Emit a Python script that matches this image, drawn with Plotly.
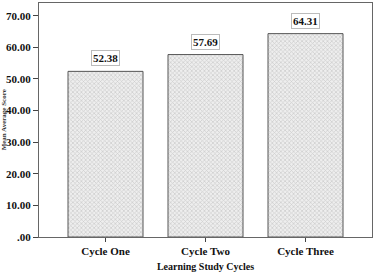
import plotly.graph_objects as go

categories = ["Cycle One", "Cycle Two", "Cycle Three"]
values = [52.38, 57.69, 64.31]
tick_vals = [0, 10, 20, 30, 40, 50, 60, 70]
tick_text = [".00", "10.00", "20.00", "30.00", "40.00", "50.00", "60.00", "70.00"]

FONT = "Liberation Serif"

fig = go.Figure()
fig.add_trace(go.Bar(
    x=categories, y=values, width=0.75,
    marker=dict(
        color="#e4e4e4",
        line=dict(color="#555555", width=1),
        pattern=dict(shape="x", fgcolor="#a8a8a8", bgcolor="#eeeeee", size=3, solidity=0.4),
    ),
    showlegend=False,
))

for c, v in zip(categories, values):
    fig.add_annotation(
        x=c, y=v, xref="x", yref="y", text=f"<b>{v:.2f}</b>",
        showarrow=False, yshift=13, bordercolor="#bbbbbb", borderwidth=1,
        borderpad=1, bgcolor="white",
        font=dict(family=FONT, size=11, color="#111111"),
    )

fig.add_annotation(
    xref="paper", yref="paper", x=-0.089, xanchor="right", y=0.5, text="<b>Mean Average Score</b>",
    textangle=-90, showarrow=False, font=dict(family=FONT, size=7, color="#333333"),
    borderpad=0,
)

fig.update_layout(
    width=377, height=272,
    margin=dict(l=39, r=5, t=2, b=31),
    paper_bgcolor="white", plot_bgcolor="white",
    bargap=0.25,
    font=dict(family=FONT, size=11, color="#111111"),
)
fig.update_xaxes(
    range=[-0.665, 2.665], showline=True, linecolor="#666666", linewidth=1, mirror=True,
    ticks="outside", ticklen=4, tickcolor="#444444", showgrid=False,
    tickfont=dict(family=FONT, size=11, color="#111111"),
    tickprefix="<b>", ticksuffix="</b>",
    title=dict(text="<b>Learning Study Cycles</b>", font=dict(family=FONT, size=10, color="#111111"), standoff=6),
)
fig.update_yaxes(
    range=[0, 74], showline=True, linecolor="#666666", linewidth=1, mirror=True,
    ticks="outside", ticklen=5, tickcolor="#444444", showgrid=False, zeroline=False,
    tickvals=tick_vals, ticktext=[f"<b>{t}</b>" for t in tick_text],
    tickfont=dict(family=FONT, size=11, color="#111111"),
)

fig.write_html("out.html")
